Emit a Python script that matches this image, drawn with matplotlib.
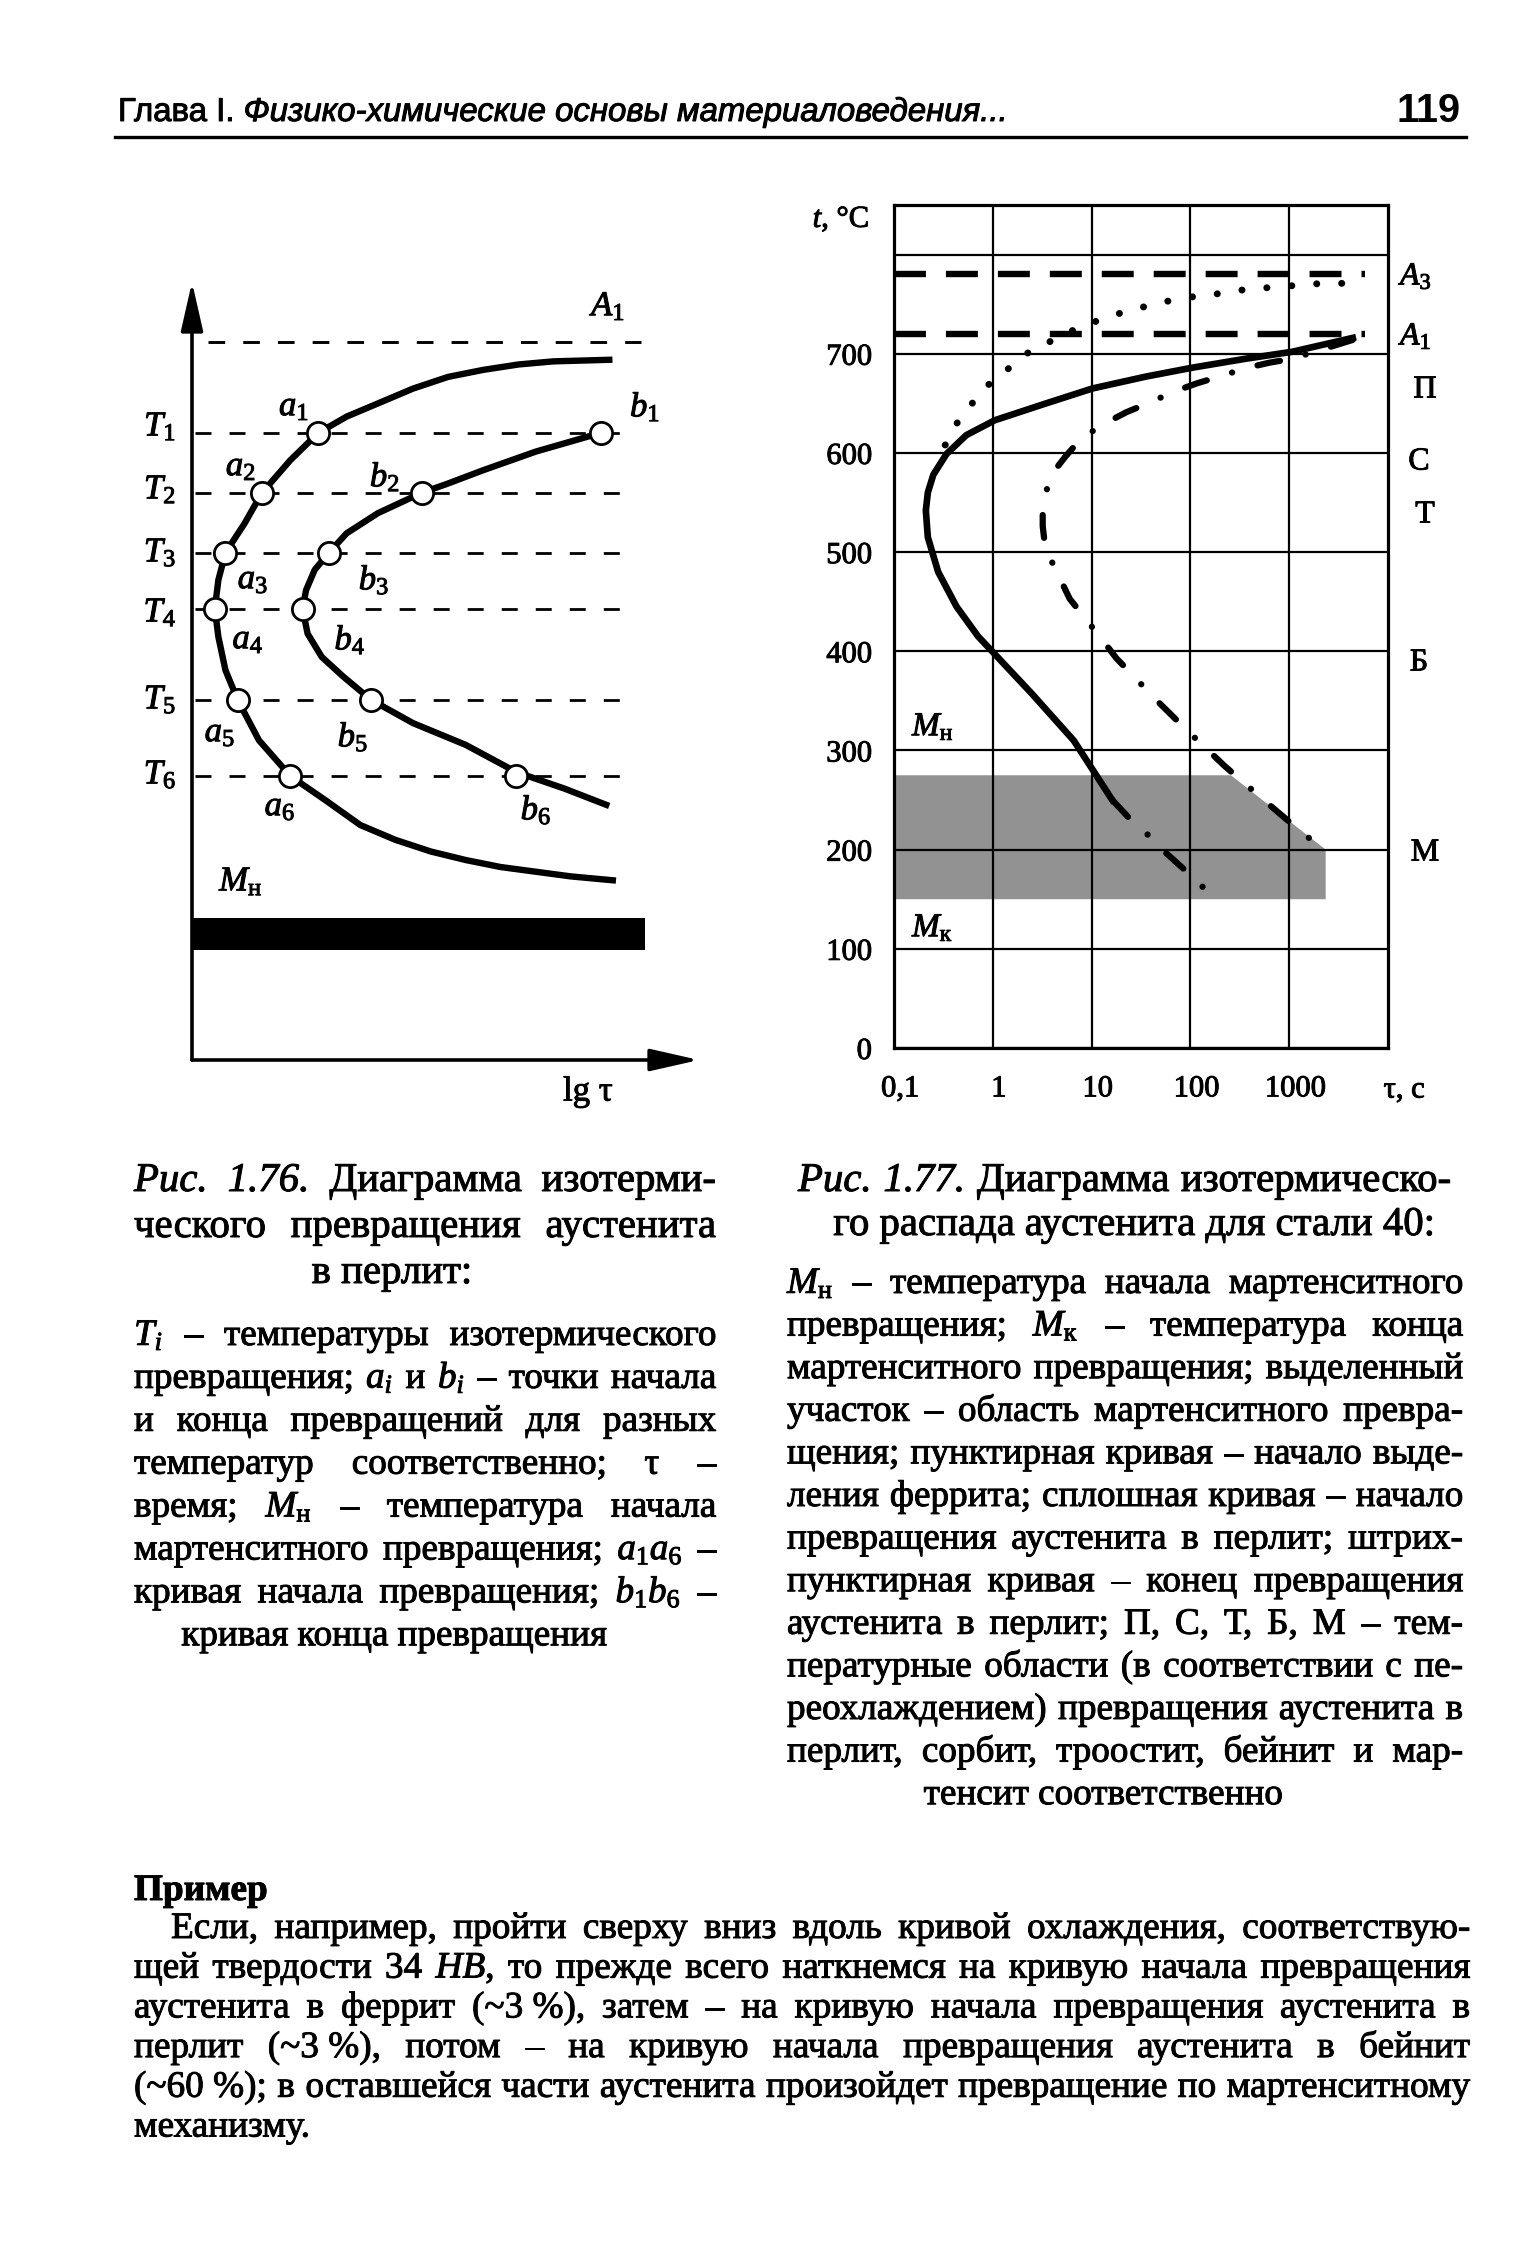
import numpy as np
import matplotlib
matplotlib.use("Agg")
import matplotlib.pyplot as plt
from matplotlib.lines import Line2D
import matplotlib.patheffects as pe
import matplotlib.transforms as mtransforms

W, H, DPI = 1535, 2264, 100

plt.rcParams['font.family'] = ['Liberation Serif', 'DejaVu Serif']
plt.rcParams['mathtext.fontset'] = 'custom'
plt.rcParams['mathtext.rm'] = 'Liberation Serif'
plt.rcParams['mathtext.it'] = 'Liberation Serif:italic'
plt.rcParams['mathtext.bf'] = 'Liberation Serif:bold'
plt.rcParams['lines.scale_dashes'] = False

# ---------- fig. 1.76: schematic, arbitrary units (x ~ lg tau, y ~ T)
T_levels = [80.6, 72.9, 65.2, 58.0, 46.3, 36.5]
A1_level = 92.3
a_points = [24.9, 13.8, 6.6, 4.5, 9.0, 19.4]
b_points = [80.6, 45.3, 27.0, 21.8, 35.3, 64.0]
curve_a_x = [82.3, 71.3, 64.4, 57.4, 50.5, 43.6, 36.7, 30.5, 24.9, 19.4, 13.8, 10.4, 6.6,
             5.2, 4.5, 5.2, 6.6, 9.0, 13.2, 19.4, 26.3, 33.2, 40.1, 47.1, 54.0, 60.9,
             67.8, 74.7, 83.0]
curve_a_y = [90.0, 89.8, 89.4, 88.7, 87.8, 86.3, 84.4, 82.7, 80.6, 77.1, 72.9, 69.0, 65.2,
             61.7, 58.0, 54.4, 50.1, 46.3, 41.1, 36.5, 33.4, 30.2, 28.3, 26.8, 25.7, 24.8,
             24.2, 23.6, 23.1]
curve_b_x = [80.6, 67.8, 57.4, 50.5, 45.3, 36.7, 30.5, 27.0, 24.2, 22.5, 21.8, 22.8, 25.6,
             29.8, 35.3, 43.6, 54.0, 64.0, 73.4, 81.7]
curve_b_y = [80.6, 78.2, 75.8, 74.1, 72.9, 70.3, 67.7, 65.2, 63.0, 60.4, 58.0, 54.8, 51.8,
             49.3, 46.3, 43.3, 40.5, 37.0, 34.9, 32.8]
Mn_band = [14.1, 18.3]

# ---------- fig. 1.77: steel 40 (tau in s, t in C)
temps = [0, 100, 200, 300, 400, 500, 600, 700, 800]
temp_labels = ['0', '100', '200', '300', '400', '500', '600', '700', '']
times = [0.1, 1, 10, 100, 1000]
time_labels = ['0,1', '1', '10', '100', '1000']
A3_temp, A1_temp = 780, 720
ferrite_tau = [0.33, 0.44, 0.63, 0.93, 1.48, 2.34, 6.9, 12, 21, 36, 65, 115, 209, 372,
               676, 1200, 2190, 3890]
ferrite_t = [608, 631, 651, 670, 686, 702, 725, 734, 742, 748, 754, 758, 761, 765,
             767, 769, 771, 771]
pearl_start_tau = [4400, 1070, 363, 105, 35.5, 10.2, 3.47, 1.05, 0.54, 0.34, 0.25, 0.22,
                   0.21, 0.22, 0.28, 0.43, 0.71, 1.05, 2.5, 6.6, 16.2]
pearl_start_t = [716, 702, 695, 686, 677, 665, 650, 633, 618, 599, 578, 560,
                 542, 515, 480, 445, 415, 397, 357, 310, 250]
pearl_low_tau = [16.2, 23.4, 39, 52, 89, 145]
pearl_low_t = [250, 233, 213, 200, 179, 159]
pearl_end_tau = [4400, 1070, 630, 380, 195, 115, 69, 37, 22.4, 13.8, 7.9, 5.4, 3.9, 3.2,
                 3.2, 3.4, 4.8, 6.0, 13.2, 17.8, 26, 43, 93, 224, 600, 1320, 2240]
pearl_end_t = [714, 695, 691, 686, 677, 670, 662, 650, 641, 630, 615, 596, 578, 549,
               526, 504, 473, 453, 410, 393, 376, 353, 320, 284, 247, 218, 200]
mart_tau = [0.1, 257, 2340, 2340, 0.1]
mart_t = [275, 275, 200, 150, 150]

fig = plt.figure(figsize=(W / DPI, H / DPI), dpi=DPI)
fig.patch.set_facecolor('white')
renderer = fig.canvas.get_renderer()

# scanned print looks heavier than the plain font
ink = [pe.withStroke(linewidth=0.7, foreground='k')]


def fx(x):
    return x / W


def fy(y):
    return 1 - y / H


def lab(x, y, s, size, ha='center', va='center', **kw):
    return fig.text(fx(x), fy(y), s, fontsize=size, ha=ha, va=va, path_effects=ink, **kw)


# ---------------- left chart
ax1 = fig.add_axes([fx(192), fy(1060), (699 - 192) / W, (1060 - 282) / H])
ax1.set_xlim(0, 100)
ax1.set_ylim(0, 100)
ax1.axis('off')

arrow = dict(arrowstyle='-|>,head_length=1.5,head_width=0.34', mutation_scale=20,
             lw=2.6, color='k', shrinkA=0, shrinkB=0)
ax1.annotate('', xy=(100, 0), xytext=(0, 0), arrowprops=arrow, annotation_clip=False)
ax1.annotate('', xy=(0, 100), xytext=(0, 0), arrowprops=arrow, annotation_clip=False)

ax1.hlines(A1_level, 3.2, 88.6, color='k', lw=2.1, linestyles=[(0, (12, 13))])
ax1.hlines(T_levels, 0.5, 86.2, color='k', lw=2.0, linestyles=[(0, (11.5, 13))])
ax1.fill_between([0, 89.3], Mn_band[0], Mn_band[1], color='k', lw=0)
ax1.plot(curve_a_x, curve_a_y, color='k', lw=4.6, solid_joinstyle='round')
ax1.plot(curve_b_x, curve_b_y, color='k', lw=4.6, solid_joinstyle='round')
ax1.plot(a_points, T_levels, 'o', ms=16, mfc='white', mec='k', mew=2, zorder=5)
ax1.plot(b_points, T_levels, 'o', ms=16, mfc='white', mec='k', mew=2, zorder=5)

lab(609, 307, '$A_1$', 25)
for i, yy in enumerate([427, 490, 553, 613, 700, 775]):
    lab(160, yy, '$T_{%d}$' % (i + 1), 25)
for i, (xx, yy) in enumerate([(294, 407), (241, 467), (253, 580), (248, 640), (220, 733), (280, 807)]):
    lab(xx, yy, '$a_{%d}$' % (i + 1), 25)
for i, (xx, yy) in enumerate([(645, 407), (385, 477), (374, 580), (350, 640), (353, 737), (536, 810)]):
    lab(xx, yy, '$b_{%d}$' % (i + 1), 25)
lab(241, 882, r'$M_{\mathrm{н}}$', 25)
lab(588, 1092, 'lg τ', 25)

# ---------------- right chart
ax2 = fig.add_axes([fx(894), fy(1048), (1388 - 894) / W, (1048 - 205) / H])
ax2.set_xscale('log')
ax2.set_xlim(0.1, 1e4)
ax2.set_ylim(0, 850)
ax2.fill(mart_tau, mart_t, color='#929292', lw=0, zorder=1)
ax2.set_xticks(times)
ax2.set_xticklabels(time_labels)
ax2.minorticks_off()
ax2.set_yticks(temps)
ax2.set_yticklabels(temp_labels)
ax2.tick_params(axis='both', length=0, labelsize=22)
ax2.tick_params(axis='x', pad=19)
ax2.tick_params(axis='y', pad=16)
shift = mtransforms.ScaledTranslation(6 / DPI, 0, fig.dpi_scale_trans)
for tl in ax2.get_xticklabels():
    tl.set_transform(tl.get_transform() + shift)
for tl in ax2.get_xticklabels() + ax2.get_yticklabels():
    tl.set_path_effects(ink)
ax2.grid(True, color='k', lw=1.6)
for sp in ax2.spines.values():
    sp.set_linewidth(2.3)

ax2.hlines([A3_temp, A1_temp], 0.1, 5800, color='k', lw=4.6, linestyles=[(0, (23, 14.4))])
ax2.plot(ferrite_tau, ferrite_t, color='k', lw=5, linestyle=(0, (0.1, 17.9)),
         dash_capstyle='round')
ax2.plot(pearl_start_tau, pearl_start_t, color='k', lw=4.8, solid_joinstyle='round')
ax2.plot(pearl_low_tau, pearl_low_t, color='k', lw=4.5, linestyle=(0, (16.5, 19, 0.1, 19)),
         dash_capstyle='round')
ax2.plot(pearl_end_tau, pearl_end_t, color='k', lw=4.5, linestyle=(0, (16.5, 19, 0.1, 19)),
         dash_capstyle='round')

lab(841, 219, '$t$, °C', 22)
lab(1400, 277, '$A_3$', 23, ha='left')
lab(1400, 337, '$A_1$', 23, ha='left')
for s, xx, yy in [('П', 1425, 390), ('С', 1419, 462), ('Т', 1425, 515), ('Б', 1419, 663), ('М', 1425, 853)]:
    lab(xx, yy, s, 23)
lab(912, 727, r'$M_{\mathrm{н}}$', 24, ha='left')
lab(912, 928, r'$M_{\mathrm{к}}$', 24, ha='left')
lab(1404, 1090, 'τ, с', 22)

# ---------------- text helpers


def word(s, size, weight='normal'):
    style = 'normal'
    if len(s) > 2 and s[0] == '*' and s[-1] == '*':
        s, style = s[1:-1], 'italic'
    return fig.text(0, 0, s, fontsize=size, fontstyle=style, fontweight=weight,
                    va='baseline', ha='left', path_effects=ink)


def natural(line, size, weight='normal'):
    ws = line.split(' ')
    total = 0
    for w in ws:
        t = word(w, size, weight)
        total += t.get_window_extent(renderer).width
        t.remove()
    return total + (len(ws) - 1) * 0.25 * size * DPI / 72


def fit_size(lines, widths, cap):
    s = cap
    for ln, wd in zip(lines, widths):
        s = min(s, 20 * wd / natural(ln, 20))
    return s * 0.995


def put(line, x0, x1, y, size, mode='j', weight='normal'):
    ws = line.split(' ')
    ts = [word(w, size, weight) for w in ws]
    wid = [t.get_window_extent(renderer).width for t in ts]
    sp = 0.25 * size * DPI / 72
    x = x0
    if mode == 'j' and len(ws) > 1:
        sp = (x1 - x0 - sum(wid)) / (len(ws) - 1)
    elif mode == 'c':
        x = x0 - (sum(wid) + sp * (len(ws) - 1)) / 2
    for t, w in zip(ts, wid):
        t.set_position((fx(x), fy(y)))
        x += w + sp


# ---------------- header
hdr_font = ['Liberation Sans Narrow', 'Liberation Sans', 'DejaVu Sans']
h1 = fig.text(0, 0, 'Глава I.', fontsize=20, family=hdr_font, va='baseline', path_effects=ink)
h2 = fig.text(0, 0, 'Физико-химические основы материаловедения...', fontsize=20,
              family=hdr_font, fontstyle='italic', va='baseline', path_effects=ink)
w1 = h1.get_window_extent(renderer).width
w2 = h2.get_window_extent(renderer).width
sp20 = 0.28 * 20 * DPI / 72
k = 888 / (w1 + w2 + sp20)
h1.set_fontsize(20 * k)
h2.set_fontsize(20 * k)
h1.set_position((fx(118), fy(121)))
h2.set_position((fx(118 + (w1 + sp20) * k), fy(121)))
pg = fig.text(0, 0, '119', fontsize=20, family=hdr_font, fontweight='bold', va='baseline', ha='right')
pg.set_fontsize(20 * 64 / pg.get_window_extent(renderer).width)
pg.set_position((fx(1461), fy(122)))
fig.add_artist(Line2D([fx(115), fx(1466)], [fy(137), fy(137)], lw=2.4, color='k'))

# ---------------- captions
title_l = ['*Рис.* *1.76.* Диаграмма изотерми-', 'ческого превращения аустенита']
title_r = ['*Рис.* *1.77.* Диаграмма изотермическо-']
ts = fit_size(title_l + title_r, [582, 582, 653], 30)
put(title_l[0], 134, 716, 1191, ts)
put(title_l[1], 134, 716, 1237, ts)
put('в перлит:', 392, None, 1283, ts, mode='c')
put(title_r[0], 798, 1451, 1191, ts)
put('го распада аустенита для стали 40:', 1134, None, 1235, ts, mode='c')

body_l = ['$T_i$ – температуры изотермического',
          'превращения; $a_i$ и $b_i$ – точки начала',
          'и конца превращений для разных',
          'температур соответственно; τ –',
          r'время; $M_{\mathrm{н}}$ – температура начала',
          'мартенситного превращения; $a_1a_6$ –',
          'кривая начала превращения; $b_1b_6$ –']
body_r = [r'$M_{\mathrm{н}}$ – температура начала мартенситного',
          r'превращения; $M_{\mathrm{к}}$ – температура конца',
          'мартенситного превращения; выделенный',
          'участок – область мартенситного превра-',
          'щения; пунктирная кривая – начало выде-',
          'ления феррита; сплошная кривая – начало',
          'превращения аустенита в перлит; штрих-',
          'пунктирная кривая – конец превращения',
          'аустенита в перлит; П, С, Т, Б, М – тем-',
          'пературные области (в соответствии с пе-',
          'реохлаждением) превращения аустенита в',
          'перлит, сорбит, троостит, бейнит и мар-']
bs = fit_size(body_l + body_r, [582] * len(body_l) + [676] * len(body_r), 27)
for i, ln in enumerate(body_l):
    put(ln, 134, 716, 1345 + 42.9 * i, bs)
put('кривая конца превращения', 394, None, 1345 + 42.9 * 7, bs, mode='c')
for i, ln in enumerate(body_r):
    put(ln, 787, 1463, 1293 + 42.6 * i, bs)
put('тенсит соответственно', 1103, None, 1293 + 42.6 * 12, bs, mode='c')

# ---------------- example paragraph
para = ['Если, например, пройти сверху вниз вдоль кривой охлаждения, соответствую-',
        'щей твердости 34 $HB$, то прежде всего наткнемся на кривую начала превращения',
        'аустенита в феррит (~3\u00a0%), затем – на кривую начала превращения аустенита в',
        'перлит (~3\u00a0%), потом – на кривую начала превращения аустенита в бейнит',
        '(~60\u00a0%); в оставшейся части аустенита произойдет превращение по мартенситному']
ms = fit_size(para, [1299] + [1336] * 4, 29)
put('Пример', 134, None, 1900, ms, mode='l', weight='bold')
for i, ln in enumerate(para):
    put(ln, 171 if i == 0 else 134, 1470, 1938 + 39.7 * i, ms)
put('механизму.', 134, None, 1938 + 39.7 * 5, ms, mode='l')

fig.savefig('out.png', dpi=DPI, facecolor='white')
